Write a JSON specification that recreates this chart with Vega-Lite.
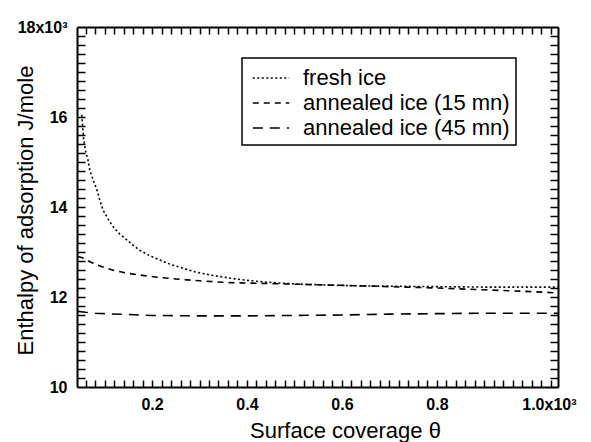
{
  "$schema": "https://vega.github.io/schema/vega-lite/v6.json",
  "width": 481,
  "height": 360,
  "autosize": "none",
  "padding": {"left": 77, "top": 27, "right": 33, "bottom": 55},
  "background": "white",
  "config": {
    "view": {"stroke": null, "fill": null},
    "axis": {
      "grid": false,
      "domainColor": "black",
      "domainWidth": 2,
      "labelFont": "Liberation Sans",
      "labelFontWeight": "bold",
      "labelFontSize": 16,
      "labelColor": "black",
      "labelOverlap": false,
      "labelFlush": false,
      "titleFont": "Liberation Sans",
      "titleFontWeight": "normal",
      "titleFontSize": 22,
      "titleColor": "black"
    }
  },
  "data": {
    "values": [
      {"series": "fresh ice", "theta": 0.052, "H": 16.05},
      {"series": "fresh ice", "theta": 0.056, "H": 15.5},
      {"series": "fresh ice", "theta": 0.06, "H": 15.25},
      {"series": "fresh ice", "theta": 0.065, "H": 15.05},
      {"series": "fresh ice", "theta": 0.069, "H": 14.82},
      {"series": "fresh ice", "theta": 0.076, "H": 14.6},
      {"series": "fresh ice", "theta": 0.084, "H": 14.38},
      {"series": "fresh ice", "theta": 0.09, "H": 14.15},
      {"series": "fresh ice", "theta": 0.097, "H": 13.93},
      {"series": "fresh ice", "theta": 0.107, "H": 13.74},
      {"series": "fresh ice", "theta": 0.118, "H": 13.56},
      {"series": "fresh ice", "theta": 0.132, "H": 13.4},
      {"series": "fresh ice", "theta": 0.147, "H": 13.27},
      {"series": "fresh ice", "theta": 0.16, "H": 13.15},
      {"series": "fresh ice", "theta": 0.174, "H": 13.04},
      {"series": "fresh ice", "theta": 0.195, "H": 12.92},
      {"series": "fresh ice", "theta": 0.217, "H": 12.82},
      {"series": "fresh ice", "theta": 0.24, "H": 12.72},
      {"series": "fresh ice", "theta": 0.265, "H": 12.64},
      {"series": "fresh ice", "theta": 0.29, "H": 12.56},
      {"series": "fresh ice", "theta": 0.322, "H": 12.49},
      {"series": "fresh ice", "theta": 0.364, "H": 12.42},
      {"series": "fresh ice", "theta": 0.4, "H": 12.37},
      {"series": "fresh ice", "theta": 0.44, "H": 12.33},
      {"series": "fresh ice", "theta": 0.5, "H": 12.29},
      {"series": "fresh ice", "theta": 0.56, "H": 12.27},
      {"series": "fresh ice", "theta": 0.62, "H": 12.25},
      {"series": "fresh ice", "theta": 0.7, "H": 12.24},
      {"series": "fresh ice", "theta": 0.8, "H": 12.23},
      {"series": "fresh ice", "theta": 0.9, "H": 12.22},
      {"series": "fresh ice", "theta": 1.0, "H": 12.22},
      {"series": "fresh ice", "theta": 1.055, "H": 12.22},
      {"series": "annealed ice (15 mn)", "theta": 0.044, "H": 12.9},
      {"series": "annealed ice (15 mn)", "theta": 0.053, "H": 12.87},
      {"series": "annealed ice (15 mn)", "theta": 0.07, "H": 12.78},
      {"series": "annealed ice (15 mn)", "theta": 0.095, "H": 12.67},
      {"series": "annealed ice (15 mn)", "theta": 0.12, "H": 12.59},
      {"series": "annealed ice (15 mn)", "theta": 0.147, "H": 12.53},
      {"series": "annealed ice (15 mn)", "theta": 0.18, "H": 12.48},
      {"series": "annealed ice (15 mn)", "theta": 0.21, "H": 12.44},
      {"series": "annealed ice (15 mn)", "theta": 0.25, "H": 12.4},
      {"series": "annealed ice (15 mn)", "theta": 0.3, "H": 12.36},
      {"series": "annealed ice (15 mn)", "theta": 0.36, "H": 12.32},
      {"series": "annealed ice (15 mn)", "theta": 0.44, "H": 12.3},
      {"series": "annealed ice (15 mn)", "theta": 0.52, "H": 12.28},
      {"series": "annealed ice (15 mn)", "theta": 0.6, "H": 12.26},
      {"series": "annealed ice (15 mn)", "theta": 0.7, "H": 12.23},
      {"series": "annealed ice (15 mn)", "theta": 0.8, "H": 12.2},
      {"series": "annealed ice (15 mn)", "theta": 0.9, "H": 12.16},
      {"series": "annealed ice (15 mn)", "theta": 1.0, "H": 12.12},
      {"series": "annealed ice (15 mn)", "theta": 1.055, "H": 12.09},
      {"series": "annealed ice (45 mn)", "theta": 0.044, "H": 11.68},
      {"series": "annealed ice (45 mn)", "theta": 0.06, "H": 11.66},
      {"series": "annealed ice (45 mn)", "theta": 0.08, "H": 11.64},
      {"series": "annealed ice (45 mn)", "theta": 0.1, "H": 11.63},
      {"series": "annealed ice (45 mn)", "theta": 0.15, "H": 11.61},
      {"series": "annealed ice (45 mn)", "theta": 0.2, "H": 11.59},
      {"series": "annealed ice (45 mn)", "theta": 0.3, "H": 11.58},
      {"series": "annealed ice (45 mn)", "theta": 0.4, "H": 11.58},
      {"series": "annealed ice (45 mn)", "theta": 0.5, "H": 11.59},
      {"series": "annealed ice (45 mn)", "theta": 0.6, "H": 11.6},
      {"series": "annealed ice (45 mn)", "theta": 0.7, "H": 11.62},
      {"series": "annealed ice (45 mn)", "theta": 0.8, "H": 11.63},
      {"series": "annealed ice (45 mn)", "theta": 0.9, "H": 11.64},
      {"series": "annealed ice (45 mn)", "theta": 1.0, "H": 11.64},
      {"series": "annealed ice (45 mn)", "theta": 1.055, "H": 11.64}
    ]
  },
  "layer": [
    {
      "mark": {"type": "line", "color": "black", "strokeWidth": 1.6},
      "encoding": {
        "x": {
          "field": "theta", "type": "quantitative",
          "scale": {"domain": [0.042, 1.055], "nice": false, "zero": false},
          "axis": {
            "orient": "bottom",
            "values": [0.2,0.4,0.6,0.8,1],
            "labelExpr": "datum.value == 1 ? '1.0x10³' : format(datum.value, '.1f')",
            "ticks": false,
            "labelOffset": {"condition": {"test": "datum.value == 1", "value": 17}, "value": 0},
            "labelPadding": 9,
            "labelBaseline": "top",
            "title": "Surface coverage θ",
            "titleX": 268,
            "titleY": 50,
            "titleBaseline": "alphabetic",
            "titleAlign": "center"
          }
        },
        "y": {
          "field": "H", "type": "quantitative",
          "scale": {"domain": [10, 18], "nice": false, "zero": false},
          "axis": {
            "orient": "left",
            "values": [10,12,14,16,18],
            "labelExpr": "datum.value == 18 ? '18x10³' : toString(round(datum.value))",
            "ticks": false,
            "labelPadding": 10,
            "labelBaseline": "middle",
            "title": "Enthalpy of adsorption J/mole",
            "titleX": -52,
            "titleY": 183,
            "titleAngle": -90,
            "titleBaseline": "middle",
            "titleAlign": "center"
          }
        },
        "strokeDash": {
          "field": "series", "type": "nominal",
          "scale": {
            "domain": ["fresh ice", "annealed ice (15 mn)", "annealed ice (45 mn)"],
            "range": [[2, 2.5], [6, 5], [10, 7]]
          },
          "legend": {
            "orient": "none",
            "legendX": 165,
            "legendY": 31,
            "title": null,
            "strokeColor": "black",
            "fillColor": "white",
            "padding": 6,
            "symbolType": "M-1.4,0H1.4",
            "symbolSize": 676,
            "symbolOffset": 9,
            "symbolStrokeWidth": 1.6,
            "symbolStrokeColor": "black",
            "labelFont": "Liberation Sans",
            "labelFontSize": 22,
            "labelLimit": 400,
            "labelColor": "black",
            "labelOffset": 18,
            "rowPadding": 0,
            "encode": {"legend": {"update": {"strokeWidth": {"value": 1.5}}}}
          }
        }
      }
    },
    {
      "mark": {"type": "line", "color": "black", "strokeOpacity": 0},
      "encoding": {
        "x": {"field": "theta", "type": "quantitative",
          "axis": {"orient": "top", "labels": false, "ticks": false, "title": null}},
        "y": {"field": "H", "type": "quantitative",
          "axis": {"orient": "right", "labels": false, "ticks": false, "title": null}},
        "detail": {"field": "series", "type": "nominal"}
      }
    },
    {
      "mark": {"type": "line", "color": "black", "strokeOpacity": 0},
      "encoding": {
        "x": {"field": "theta", "type": "quantitative",
          "axis": {"orient": "bottom", "values": [0.06,0.08,0.1,0.12,0.14,0.16,0.18,0.2,0.22,0.24,0.26,0.28,0.3,0.32,0.34,0.36,0.38,0.4,0.42,0.44,0.46,0.48,0.5,0.52,0.54,0.56,0.58,0.6,0.62,0.64,0.66,0.68,0.7,0.72,0.74,0.76,0.78,0.8,0.82,0.84,0.86,0.88,0.9,0.92,0.94,0.96,0.98,1,1.02,1.04], "labels": false, "title": null, "domain": false, "ticks": true, "tickColor": "black", "tickWidth": 1.5, "tickSize": 7, "offset": -7,
            "encode": {"ticks": {"update": {"y": {"signal": "round(datum.value*100) % 10 == 0 ? 0 : 3"}}}}}},
        "y": {"field": "H", "type": "quantitative",
          "axis": {"orient": "left", "values": [10.2,10.4,10.6,10.8,11,11.2,11.4,11.6,11.8,12,12.2,12.4,12.6,12.8,13,13.2,13.4,13.6,13.8,14,14.2,14.4,14.6,14.8,15,15.2,15.4,15.6,15.8,16,16.2,16.4,16.6,16.8,17,17.2,17.4,17.6,17.8], "labels": false, "title": null, "domain": false, "ticks": true, "tickColor": "black", "tickWidth": 1.5, "tickSize": 8, "offset": -8,
            "encode": {"ticks": {"update": {"x": {"signal": "round(datum.value*10) % 10 == 0 ? 0 : -3.5"}}}}}},
        "detail": {"field": "series", "type": "nominal"}
      }
    },
    {
      "mark": {"type": "line", "color": "black", "strokeOpacity": 0},
      "encoding": {
        "x": {"field": "theta", "type": "quantitative",
          "axis": {"orient": "top", "values": [0.06,0.08,0.1,0.12,0.14,0.16,0.18,0.2,0.22,0.24,0.26,0.28,0.3,0.32,0.34,0.36,0.38,0.4,0.42,0.44,0.46,0.48,0.5,0.52,0.54,0.56,0.58,0.6,0.62,0.64,0.66,0.68,0.7,0.72,0.74,0.76,0.78,0.8,0.82,0.84,0.86,0.88,0.9,0.92,0.94,0.96,0.98,1,1.02,1.04], "labels": false, "title": null, "domain": false, "ticks": true, "tickColor": "black", "tickWidth": 1.5, "tickSize": 7, "offset": -7,
            "encode": {"ticks": {"update": {"y": {"signal": "round(datum.value*100) % 10 == 0 ? 0 : -3"}}}}}},
        "y": {"field": "H", "type": "quantitative",
          "axis": {"orient": "right", "values": [10.2,10.4,10.6,10.8,11,11.2,11.4,11.6,11.8,12,12.2,12.4,12.6,12.8,13,13.2,13.4,13.6,13.8,14,14.2,14.4,14.6,14.8,15,15.2,15.4,15.6,15.8,16,16.2,16.4,16.6,16.8,17,17.2,17.4,17.6,17.8], "labels": false, "title": null, "domain": false, "ticks": true, "tickColor": "black", "tickWidth": 1.5, "tickSize": 8, "offset": -8,
            "encode": {"ticks": {"update": {"x": {"signal": "round(datum.value*10) % 10 == 0 ? 0 : 3.5"}}}}}},
        "detail": {"field": "series", "type": "nominal"}
      }
    }
  ],
  "resolve": {"axis": {"x": "independent", "y": "independent"}}
}
